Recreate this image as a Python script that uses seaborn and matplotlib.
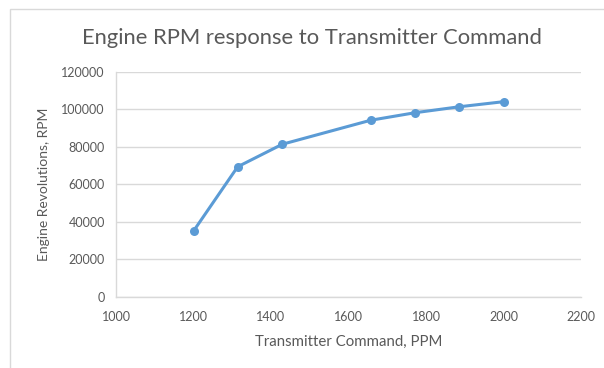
import matplotlib
matplotlib.use("Agg")
import matplotlib.pyplot as plt
import seaborn as sns
import pandas as pd
from matplotlib.patches import Rectangle

# Engine RPM measured at each transmitter command setting
command_ppm = [1200, 1314, 1429, 1657, 1771, 1886, 2000]
engine_rpm = [35000, 69300, 81300, 94100, 98100, 101300, 104000]

x_ticks = [1000, 1200, 1400, 1600, 1800, 2000, 2200]
y_ticks = [0, 20000, 40000, 60000, 80000, 100000, 120000]

sns.set_theme(style="white")
plt.rcParams["font.family"] = ["Lato", "DejaVu Sans"]

text_grey = "#595959"
grid_grey = "#d9d9d9"
line_blue = "#5B9BD5"

df = pd.DataFrame({"cmd": command_ppm, "rpm": engine_rpm})

fig = plt.figure(figsize=(6.04, 3.68), dpi=100)
ax = fig.add_axes([116 / 604, 1 - 296.7 / 368, (581 - 116) / 604, (296.7 - 71.7) / 368])

sns.lineplot(data=df, x="cmd", y="rpm", ax=ax, color=line_blue, linewidth=2.2,
             marker="o", markersize=6.5, markeredgewidth=0, zorder=3)

ax.set_xlim(1000, 2200)
ax.set_ylim(0, 120000)
ax.set_xticks(x_ticks)
ax.set_yticks(y_ticks)
ax.set_xticklabels([str(v) for v in x_ticks])
ax.set_yticklabels([str(v) for v in y_ticks])
ax.tick_params(axis="both", length=0, labelsize=9, labelcolor=text_grey)
ax.tick_params(axis="x", pad=10)
ax.tick_params(axis="y", pad=8)

ax.yaxis.grid(True, color=grid_grey, linewidth=1.0)
ax.xaxis.grid(False)
ax.set_axisbelow(True)
for side in ["top", "right"]:
    ax.spines[side].set_visible(False)
for side in ["left", "bottom"]:
    ax.spines[side].set_color(grid_grey)
    ax.spines[side].set_linewidth(1.0)

ax.set_xlabel("Transmitter Command, PPM", fontsize=10.8, color=text_grey, labelpad=9)
ax.set_ylabel("Engine Revolutions, RPM", fontsize=10, color=text_grey, labelpad=8)

fig.text(312 / 604, 1 - 38 / 368, "Engine RPM response to Transmitter Command",
         ha="center", va="center", fontsize=15.8, color=text_grey)

# chart frame
fig.patches.append(Rectangle((10 / 604, -0.1), 1.2, 1 - 9 / 368 + 0.1,
                             transform=fig.transFigure, fill=False,
                             edgecolor=grid_grey, linewidth=1.0))

fig.savefig("out.png", dpi=100, facecolor="white")
